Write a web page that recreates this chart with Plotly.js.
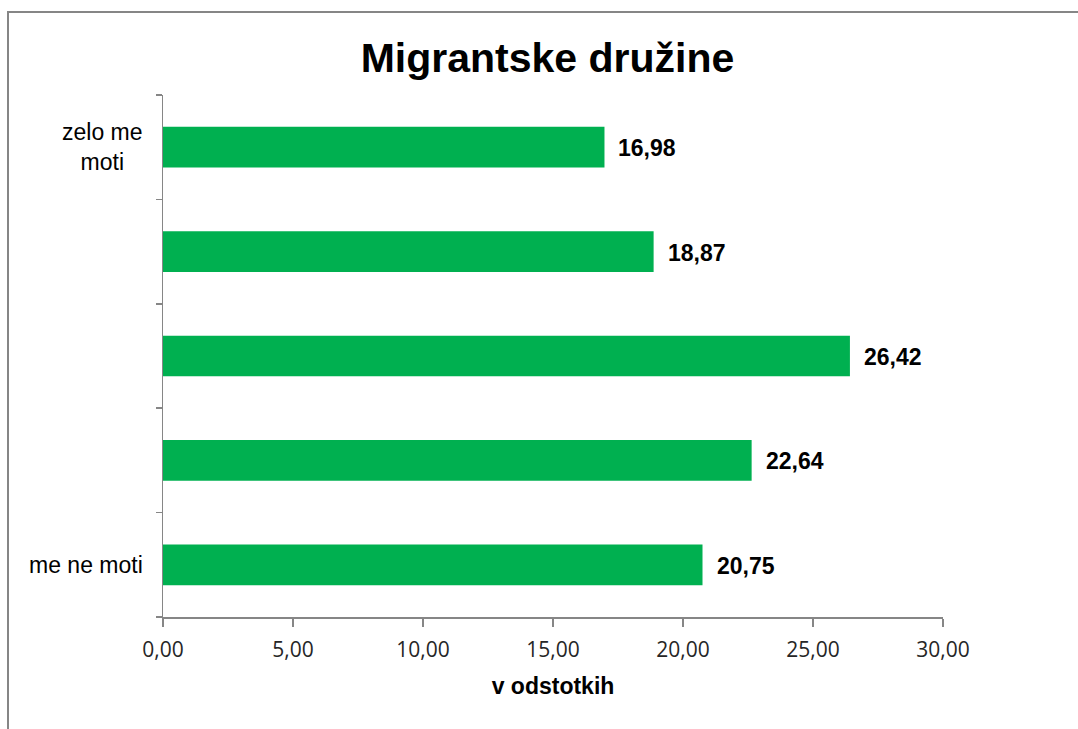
<!DOCTYPE html>
<html>
<head>
<meta charset="utf-8">
<script src="https://cdn.plot.ly/plotly-3.0.1.min.js"></script>
<style>
html,body{margin:0;padding:0;background:#fff;}
#chart{width:1078px;height:729px;}
</style>
</head>
<body>
<div id="chart"></div>
<script>
// categories from bottom to top
const categories = ["me ne moti", " ", "  ", "   ", "zelo me<br>moti"];
const values = [20.75, 22.64, 26.42, 18.87, 16.98];
const valueLabels = ["20,75", "22,64", "26,42", "18,87", "16,98"];
const xTickVals = [0, 5, 10, 15, 20, 25, 30];
const xTickText = ["0,00", "5,00", "10,00", "15,00", "20,00", "25,00", "30,00"];

const W = 1078, H = 729;
const m = {l: 163, r: 135, t: 95, b: 112};
const pw = W - m.l - m.r, ph = H - m.t - m.b;

const trace = {
  type: "bar",
  orientation: "h",
  x: values,
  y: categories,
  marker: {color: "#00B050", line: {width: 0}},
  width: 0.39,
  hoverinfo: "skip"
};

const valueAnn = values.map((v, i) => ({
  x: v, y: categories[i], xref: "x", yref: "y",
  text: "<b>" + valueLabels[i] + "</b>", showarrow: false,
  xanchor: "left", yanchor: "middle", xshift: 12, yshift: -1,
  font: {family: "Liberation Sans, Arial, sans-serif", size: 23, color: "#000"}
}));

const catAnn = categories.map((c) => ({
  x: 0, y: c, xref: "paper", yref: "y",
  text: c.trim(), showarrow: false, align: "center",
  xanchor: "right", yanchor: "middle", xshift: -18,
  font: {family: "Liberation Sans, Arial, sans-serif", size: 23, color: "#000"}
})).filter(a => a.text !== "");

const layout = {
  width: W, height: H,
  margin: m,
  paper_bgcolor: "#fff", plot_bgcolor: "#fff",
  showlegend: false,
  title: {
    text: "<b>Migrantske družine</b>",
    font: {family: "Liberation Sans, Arial, sans-serif", size: 41, color: "#000"},
    x: 0.493, xanchor: "center", xref: "paper",
    y: 1 - 58 / H, yanchor: "middle", yref: "container"
  },
  xaxis: {
    range: [0, 30], tickvals: xTickVals, ticktext: xTickText,
    showgrid: false, zeroline: false,
    showline: true, linecolor: "#868686", linewidth: 1.5,
    ticks: "outside", ticklen: 8, tickcolor: "#868686", tickwidth: 1.5,
    tickfont: {family: "Open Sans, sans-serif", size: 21, color: "#262626"},
    ticklabelstandoff: 5,
    title: {
      text: "<b>v odstotkih</b>",
      font: {family: "Liberation Sans, Arial, sans-serif", size: 23, color: "#000"},
      standoff: 16
    },
    fixedrange: true
  },
  yaxis: {
    type: "category", categoryorder: "array", categoryarray: categories,
    range: [-0.5, 4.5],
    tickson: "boundaries",
    showticklabels: false,
    showgrid: false, zeroline: false,
    showline: true, linecolor: "#868686", linewidth: 1.5,
    ticks: "outside", ticklen: 6, tickcolor: "#868686", tickwidth: 1.5,
    fixedrange: true
  },
  annotations: valueAnn.concat(catAnn),
  shapes: [{
    type: "rect", xref: "paper", yref: "paper", layer: "above",
    x0: (8 - m.l) / pw, x1: (1100 - m.l) / pw,
    y0: (H - m.b - 760) / ph, y1: (H - m.b - 12) / ph,
    line: {color: "#868686", width: 2}, fillcolor: "rgba(0,0,0,0)"
  }]
};

Plotly.newPlot("chart", [trace], layout, {displayModeBar: false, staticPlot: true});
</script>
</body>
</html>
